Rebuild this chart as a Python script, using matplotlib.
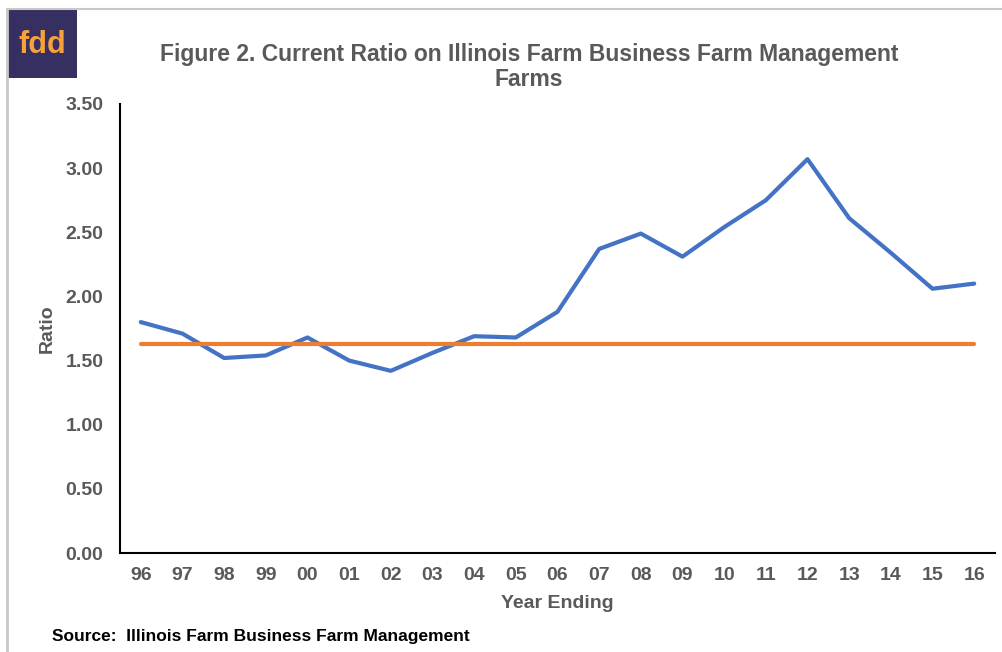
import matplotlib.pyplot as plt
from matplotlib.patches import Rectangle
from matplotlib.lines import Line2D

plt.rcParams['font.family'] = ['Liberation Sans', 'DejaVu Sans']

# Datos
years = ['96', '97', '98', '99', '00', '01', '02', '03', '04', '05', '06',
         '07', '08', '09', '10', '11', '12', '13', '14', '15', '16']
current_ratio = [1.80, 1.71, 1.52, 1.54, 1.68, 1.50, 1.42, 1.56, 1.69, 1.68, 1.88,
                 2.37, 2.49, 2.31, 2.54, 2.75, 3.07, 2.61, 2.34, 2.06, 2.10]
reference = [1.63] * len(years)
yticks = [0.0, 0.5, 1.0, 1.5, 2.0, 2.5, 3.0, 3.5]

gray = '#595959'

fig = plt.figure(figsize=(10.03, 6.52), dpi=100)
ax = fig.add_axes([120 / 1003, 99 / 652, 875 / 1003, 449 / 652])

x = list(range(len(years)))
ax.plot(x, current_ratio, color='#4472C4', lw=3, solid_capstyle='round')
ax.plot(x, reference, color='#ED7D31', lw=3, solid_capstyle='round')

ax.set_xlim(-0.5, len(years) - 0.5)
ax.set_ylim(0, 3.5)
ax.set_xticks(x)
ax.set_xticklabels(years)
ax.set_yticks(yticks)
ax.set_yticklabels(['%.2f' % v for v in yticks])
ax.tick_params(length=0, labelsize=14, labelcolor=gray)
ax.tick_params(axis='y', pad=12)
ax.tick_params(axis='x', pad=10)
for lbl in ax.get_xticklabels() + ax.get_yticklabels():
    lbl.set_fontweight('bold')

for s in ['top', 'right']:
    ax.spines[s].set_visible(False)
for s in ['left', 'bottom']:
    ax.spines[s].set_color('black')
    ax.spines[s].set_linewidth(1.5)

ax.set_xlabel('Year Ending', fontsize=14, fontweight='bold', color=gray, labelpad=8)
ax.set_ylabel('Ratio', fontsize=14, fontweight='bold', color=gray, labelpad=7)

fig.text(529 / 1003, 1 - 67 / 652,
         'Figure 2. Current Ratio on Illinois Farm Business Farm Management\nFarms',
         ha='center', va='center', fontsize=16.5, fontweight='bold', color=gray,
         linespacing=1.15)

fig.text(52 / 1003, 1 - 637 / 652, 'Source:  Illinois Farm Business Farm Management',
         ha='left', va='center', fontsize=12.5, fontweight='bold', color='black')

# marco gris de la imagen
fig.add_artist(Line2D([7 / 1003, 7 / 1003], [0, 1 - 9 / 652], color='#c8c8c8', lw=2,
                      transform=fig.transFigure))
fig.add_artist(Line2D([7 / 1003, 1], [1 - 9 / 652, 1 - 9 / 652], color='#c8c8c8', lw=1.5,
                      transform=fig.transFigure))

# logo fdd
fig.add_artist(Rectangle((7 / 1003, 1 - 78 / 652), 70 / 1003, 69 / 652,
                         facecolor='#363062', edgecolor='none', transform=fig.transFigure))
fig.text(42 / 1003, 1 - 45 / 652, 'fdd', ha='center', va='center', fontsize=22,
         fontweight='bold', color='#F7A13A')

fig.savefig('out.png', dpi=100)
